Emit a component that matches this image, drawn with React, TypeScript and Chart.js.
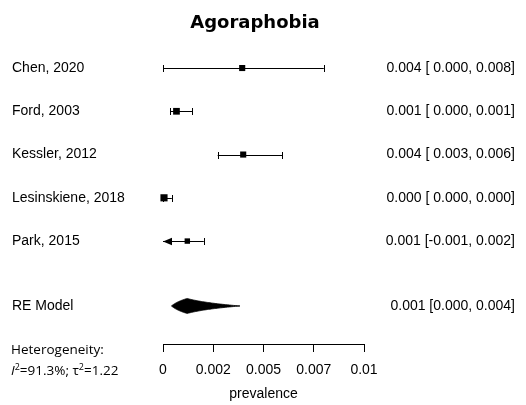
import React, { useEffect, useRef } from "react";
import { Chart, registerables } from "chart.js";

Chart.register(...registerables);

const chartTitle = "Agoraphobia";
const studies = ["Chen, 2020", "Ford, 2003", "Kessler, 2012", "Lesinskiene, 2018", "Park, 2015"];
const estimates = [0.00394, 0.00067, 0.00399, 0.00005, 0.00121];
const lowerCI = [0.0, 0.00035, 0.00272, 0.0, -0.001];
const upperCI = [0.008, 0.00145, 0.00592, 0.00044, 0.00203];
const weights = [19, 23, 19, 26, 15];
const ciLabels = [
  "0.004 [ 0.000, 0.008]",
  "0.001 [ 0.000, 0.001]",
  "0.004 [ 0.003, 0.006]",
  "0.000 [ 0.000, 0.000]",
  "0.001 [-0.001, 0.002]",
];
const rowPositions = [5.5, 4.5, 3.5, 2.5, 1.5];

const reLabel = "RE Model";
const reEstimate = 0.0012;
const reLower = 0.00042;
const reUpper = 0.00383;
const reText = "0.001 [0.000, 0.004]";
const rePosition = 0;

const xTicks = [0, 0.0025, 0.005, 0.0075, 0.01];
const xTickLabels = ["0", "0.002", "0.005", "0.007", "0.01"];
const xAxisTitle = "prevalence";
const heteroTitle = "Heterogeneity:";
const i2Value = "91.3%";
const tau2Value = "1.22";

const X_MIN = 0;
const X_MAX = 0.01;
const LABEL_FONT = '14px "Liberation Sans", Arial, sans-serif';
const NOTE_FONT = '13.5px "Open Sans", sans-serif';

function squareSide(w: number) {
  return Math.sqrt(w) * 1.4;
}

const forestPlugin = {
  id: "forest",
  afterDatasetsDraw(chart: any) {
    const { ctx } = chart;
    const xs = chart.scales.x;
    const ys = chart.scales.y;
    const px = (v: number) => xs.getPixelForValue(v);
    ctx.save();
    ctx.strokeStyle = "#000";
    ctx.fillStyle = "#000";
    ctx.lineWidth = 1;
    studies.forEach((_, i) => {
      const y = Math.round(ys.getPixelForValue(rowPositions[i])) + 0.5;
      const lo = Math.max(lowerCI[i], X_MIN);
      const hi = Math.min(upperCI[i], X_MAX);
      const x1 = px(lo);
      const x2 = px(hi);
      ctx.beginPath();
      ctx.moveTo(x1, y);
      ctx.lineTo(x2, y);
      ctx.stroke();
      const tick = (x: number) => {
        const xx = Math.round(x) + 0.5;
        ctx.beginPath();
        ctx.moveTo(xx, y - 3.5);
        ctx.lineTo(xx, y + 3.5);
        ctx.stroke();
      };
      if (lowerCI[i] < X_MIN) {
        ctx.beginPath();
        ctx.moveTo(x1, y);
        ctx.lineTo(x1 + 9, y - 3.7);
        ctx.lineTo(x1 + 9, y + 3.7);
        ctx.closePath();
        ctx.fill();
      } else tick(x1);
      if (upperCI[i] > X_MAX) {
        ctx.beginPath();
        ctx.moveTo(x2, y);
        ctx.lineTo(x2 - 9, y - 3.7);
        ctx.lineTo(x2 - 9, y + 3.7);
        ctx.closePath();
        ctx.fill();
      } else tick(x2);
    });
    // RE diamond (back-transformed from log scale)
    const yr = ys.getPixelForValue(rePosition);
    const H = 7.5;
    const steps = 40;
    const lLo = Math.log(reLower);
    const lEst = Math.log(reEstimate);
    const lHi = Math.log(reUpper);
    const top: [number, number][] = [];
    for (let k = 0; k <= steps; k++) {
      const t = k / steps;
      top.push([px(Math.exp(lLo + t * (lEst - lLo))), t * H]);
    }
    for (let k = 1; k <= steps; k++) {
      const t = k / steps;
      top.push([px(Math.exp(lEst + t * (lHi - lEst))), (1 - t) * H]);
    }
    ctx.beginPath();
    top.forEach(([x, h], k) => (k === 0 ? ctx.moveTo(x, yr - h) : ctx.lineTo(x, yr - h)));
    for (let k = top.length - 1; k >= 0; k--) ctx.lineTo(top[k][0], yr + top[k][1]);
    ctx.closePath();
    ctx.fill();
    ctx.lineWidth = 0.8;
    ctx.stroke();
    ctx.restore();
  },
  afterDraw(chart: any) {
    const { ctx } = chart;
    const ys = chart.scales.y;
    ctx.save();
    ctx.fillStyle = "#000";
    ctx.font = 'bold 18px "DejaVu Sans", sans-serif';
    ctx.textAlign = "center";
    ctx.textBaseline = "alphabetic";
    ctx.fillText(chartTitle, 255, 28);
    ctx.font = LABEL_FONT;
    ctx.textBaseline = "middle";
    studies.forEach((s, i) => {
      const y = ys.getPixelForValue(rowPositions[i]);
      ctx.textAlign = "left";
      ctx.fillText(s, 12, y);
      ctx.textAlign = "right";
      ctx.fillText(ciLabels[i], 515, y);
    });
    const yr = ys.getPixelForValue(rePosition);
    ctx.textAlign = "left";
    ctx.fillText(reLabel, 12, yr);
    ctx.textAlign = "right";
    ctx.fillText(reText, 515, yr);
    ctx.textAlign = "left";
    ctx.textBaseline = "alphabetic";
    ctx.font = NOTE_FONT;
    ctx.fillText(heteroTitle, 11, 353.5);
    let x = 11;
    const base = 374.5;
    const piece = (txt: string, font: string, dy = 0) => {
      ctx.font = font;
      ctx.fillText(txt, x, base + dy);
      x += ctx.measureText(txt).width;
    };
    const sup = '9px "Open Sans", sans-serif';
    piece("I", 'italic 13.5px "Open Sans", sans-serif');
    piece("2", sup, -5);
    piece("=" + i2Value + "; \u03c4", NOTE_FONT);
    piece("2", sup, -5);
    piece("=" + tau2Value, NOTE_FONT);
    ctx.restore();
  },
};

export default function App() {
  const ref = useRef<HTMLCanvasElement>(null);
  useEffect(() => {
    if (!ref.current) return;
    const chart = new Chart(ref.current, {
      type: "scatter",
      data: {
        datasets: [
          {
            data: estimates.map((e, i) => ({ x: e, y: rowPositions[i] })),
            pointStyle: "rect",
            pointRadius: weights.map((w) => squareSide(w) / Math.SQRT2),
            pointHoverRadius: weights.map((w) => squareSide(w) / Math.SQRT2),
            pointBackgroundColor: "#000",
            pointBorderColor: "#000",
            pointBorderWidth: 0,
            clip: false as any,
          },
        ],
      },
      options: {
        animation: false,
        responsive: false,
        devicePixelRatio: 1,
        events: [],
        layout: { padding: { left: 163, right: 162, top: 46, bottom: 0 } },
        plugins: { legend: { display: false }, tooltip: { enabled: false }, title: { display: false } },
        scales: {
          x: {
            type: "linear",
            min: X_MIN,
            max: X_MAX,
            afterBuildTicks: (s: any) => {
              s.ticks = xTicks.map((v) => ({ value: v }));
            },
            afterFit: (s: any) => {
              s.height = 61;
            },
            ticks: {
              autoSkip: false,
              maxRotation: 0,
              padding: 10,
              color: "#000",
              font: { family: '"Liberation Sans", Arial, sans-serif', size: 14 },
              callback: (_v: any, i: number) => xTickLabels[i],
            },
            grid: { drawOnChartArea: false, drawTicks: true, tickLength: 8, color: "#000", lineWidth: 1 },
            border: { display: true, color: "#000", width: 1 },
            title: {
              display: true,
              text: xAxisTitle,
              color: "#000",
              font: { family: '"Liberation Sans", Arial, sans-serif', size: 14 },
              padding: { top: 0, bottom: 2 },
            },
          },
          y: { type: "linear", min: -0.879, max: 6.009, display: false },
        },
      },
      plugins: [forestPlugin],
    });
    return () => chart.destroy();
  }, []);
  return (
    <div style={{ position: "fixed", left: 0, top: 0, width: 526, height: 405, background: "#fff" }}>
      <canvas ref={ref} width={526} height={405} />
    </div>
  );
}
